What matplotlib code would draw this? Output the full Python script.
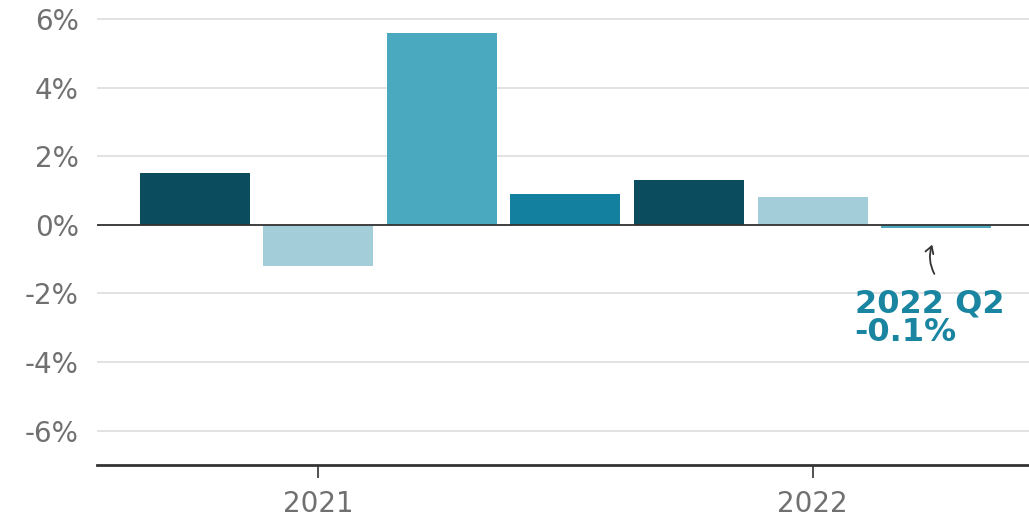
import matplotlib
matplotlib.use("Agg")
import matplotlib.pyplot as plt

quarters = ["2021 Q1", "2021 Q2", "2021 Q3", "2021 Q4", "2022 Q1", "2022 Q2", "2022 Q3"]
growth = [1.5, -1.2, 5.6, 0.9, 1.3, 0.8, -0.1]
bar_colors = ["#0b4d5e", "#a3cdd9", "#4aa8bf", "#1380a0", "#0b4d5e", "#a3cdd9", "#4aa8bf"]
yticks = [-6, -4, -2, 0, 2, 4, 6]
ytick_labels = ["-6%", "-4%", "-2%", "0%", "2%", "4%", "6%"]
xtick_idx = [1, 5]
xtick_labels = ["2021", "2022"]
note_text = "2022 Q2\n-0.1%"

plt.rcParams['font.family'] = ['DejaVu Sans']
fig = plt.figure(figsize=(10.29, 5.18), dpi=100)
W, H = 1029, 518
ax = fig.add_axes([97 / W, (H - 465) / H, (W - 97) / W, (465 - 7) / H])

x = list(range(len(growth)))
ax.bar(x, growth, width=0.89, color=bar_colors, zorder=3)
ax.set_xlim(-0.79, 6.75)
ax.set_ylim(-7, 6.35)

ax.set_yticks(yticks)
ax.set_yticklabels(ytick_labels)
ax.yaxis.grid(True, color="#dddddd", linewidth=1.2, zorder=0)
ax.tick_params(axis="y", length=0, pad=13, labelsize=20, labelcolor="#707070")
ax.axhline(0, color="#333333", linewidth=1.3, zorder=4)

ax.set_xticks(xtick_idx)
ax.set_xticklabels(xtick_labels)
ax.tick_params(axis="x", length=9, width=1.2, color="#333333", pad=9, labelsize=20, labelcolor="#707070")

for s in ["top", "right", "left"]:
    ax.spines[s].set_visible(False)
ax.spines["bottom"].set_color("#333333")
ax.spines["bottom"].set_linewidth(2)

ax.annotate("", xy=(5.975, -0.5), xytext=(5.995, -1.5),
            arrowprops=dict(arrowstyle="->,head_length=0.5,head_width=0.3", color="#333333", lw=1.3,
                            connectionstyle="arc3,rad=-0.25"), zorder=5)
ax.text(5.34, -1.85, note_text, color="#1a85a0", fontsize=23, fontweight="bold",
        ha="left", va="top", linespacing=0.92)

fig.savefig("out.png", dpi=100)
